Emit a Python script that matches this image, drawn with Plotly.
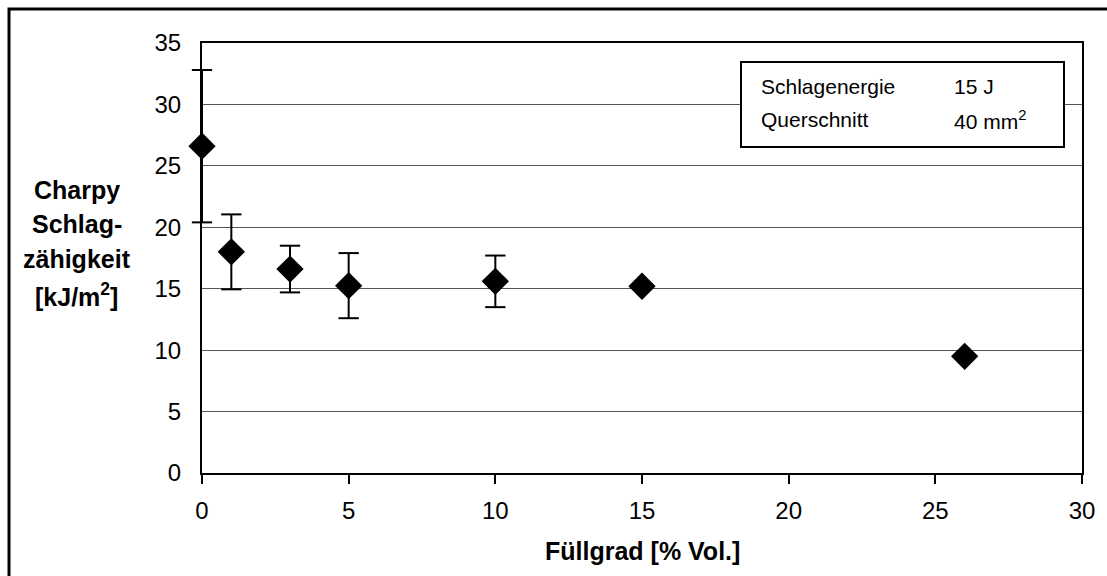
import plotly.graph_objects as go

# Filler content (% by volume) and Charpy impact strength [kJ/m²]
fuellgrad = [0, 1, 3, 5, 10, 15, 26]
schlagzaehigkeit = [26.6, 18.0, 16.6, 15.25, 15.6, 15.2, 9.5]
streuung = [6.2, 3.05, 1.9, 2.65, 2.1, 0, 0]

x_ticks = [0, 5, 10, 15, 20, 25, 30]
y_ticks = [0, 5, 10, 15, 20, 25, 30, 35]

y_title_lines = ["Charpy", "Schlag-", "zähigkeit", "[kJ/m<sup>2</sup>]"]
info_rows = [("Schlagenergie", "15 J"), ("Querschnitt", "40 mm<sup>2</sup>")]

W, H = 1107, 576
L, R, T, B = 202, 25, 43, 103
PW, PH = W - L - R, H - T - B


def px(xp):
    return (xp - L) / PW


def py(yp):
    return (H - B - yp) / PH


FONT = "Liberation Sans, Arial, sans-serif"

# end caps of the scatter bars (drawn as markers so they are not clipped at x=0)
cap_x, cap_y = [], []
for xv, yv, ev in zip(fuellgrad, schlagzaehigkeit, streuung):
    if ev > 0:
        cap_x += [xv, xv]
        cap_y += [yv + ev, yv - ev]

fig = go.Figure()
fig.add_trace(go.Scatter(
    x=cap_x, y=cap_y, mode="markers",
    marker=dict(symbol="line-ew", size=14.5,
                line=dict(color="black", width=2)),
    cliponaxis=False, showlegend=False, hoverinfo="skip",
))
fig.add_trace(go.Scatter(
    x=fuellgrad, y=schlagzaehigkeit, mode="markers",
    marker=dict(symbol="diamond", size=21, color="black"),
    error_y=dict(type="data", array=streuung, visible=True,
                 color="black", thickness=2, width=0),
    cliponaxis=False, showlegend=False,
))

shapes = [
    # outer frame of the figure
    dict(type="rect", xref="paper", yref="paper",
         x0=px(9), x1=px(1200), y0=py(9), y1=py(700),
         line=dict(color="black", width=3), fillcolor="rgba(0,0,0,0)"),
    # info box
    dict(type="rect", xref="paper", yref="paper",
         x0=px(741), x1=px(1064), y0=py(62), y1=py(147),
         line=dict(color="black", width=2), fillcolor="white", layer="above"),
]

annotations = []
for txt, yc in zip(y_title_lines, [190, 224, 259, 295]):
    annotations.append(dict(
        text=txt, xref="paper", yref="paper", x=px(77), y=py(yc),
        xanchor="center", yanchor="middle", showarrow=False,
        font=dict(family=FONT, size=25, color="black", weight="bold")))

for (name, val), yc in zip(info_rows, [86, 120]):
    annotations.append(dict(
        text=name, xref="paper", yref="paper", x=px(759), y=py(yc),
        xanchor="left", yanchor="middle", showarrow=False,
        font=dict(family=FONT, size=21, color="black")))
    annotations.append(dict(
        text=val, xref="paper", yref="paper", x=px(952), y=py(yc),
        xanchor="left", yanchor="middle", showarrow=False,
        font=dict(family=FONT, size=21, color="black")))

annotations.append(dict(
    text="Füllgrad [% Vol.]", xref="paper", yref="paper", x=px(642), y=py(551),
    xanchor="center", yanchor="middle", showarrow=False,
    font=dict(family=FONT, size=25, color="black", weight="bold")))

fig.update_layout(
    width=W, height=H,
    margin=dict(l=L, r=R, t=T, b=B),
    paper_bgcolor="white", plot_bgcolor="white",
    font=dict(family=FONT, size=24, color="black"),
    shapes=shapes, annotations=annotations,
    xaxis=dict(range=[0, 30], tickvals=x_ticks, ticks="outside", ticklen=9,
               tickwidth=2, tickcolor="black", showgrid=False,
               showline=True, linecolor="black", linewidth=2, mirror=True,
               zeroline=False, ticklabelstandoff=6, tickfont=dict(size=24)),
    yaxis=dict(range=[0, 35], tickvals=y_ticks, ticks="", showgrid=True,
               gridcolor="#555555", gridwidth=1,
               showline=True, linecolor="black", linewidth=2, mirror=True,
               zeroline=False, ticklabelstandoff=14, tickfont=dict(size=24)),
)

fig.write_html("out.html")
